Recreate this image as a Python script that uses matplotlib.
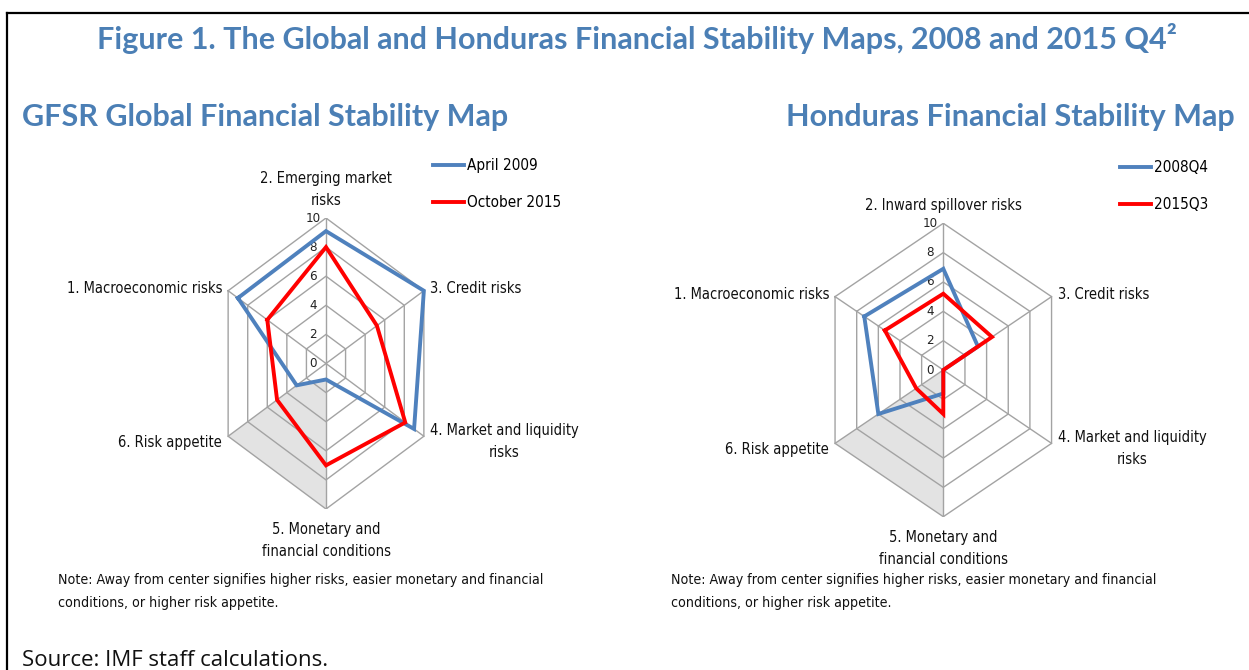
import numpy as np
import matplotlib.pyplot as plt
from matplotlib.lines import Line2D

# axes labels, in clockwise order starting from upper left
labels_global = ["1. Macroeconomic risks", "2. Emerging market\nrisks", "3. Credit risks",
                 "4. Market and liquidity\nrisks", "5. Monetary and\nfinancial conditions",
                 "6. Risk appetite"]
labels_honduras = ["1. Macroeconomic risks", "2. Inward spillover risks", "3. Credit risks",
                   "4. Market and liquidity\nrisks", "5. Monetary and\nfinancial conditions",
                   "6. Risk appetite"]

april_2009 = [9.0, 9.1, 10.0, 9.0, 1.1, 3.0]
october_2015 = [6.0, 8.0, 5.2, 8.1, 7.0, 5.0]
hn_2008q4 = [7.3, 6.9, 3.2, 0.0, 1.6, 6.0]
hn_2015q3 = [5.4, 5.2, 4.5, 0.0, 3.0, 2.5]

# grey area between axes 5 and 6 (inner edge values)
shade_global = [1.1, 3.0]
shade_honduras = [0.0, 0.0]

ring_ticks = [0, 2, 4, 6, 8, 10]

BLUE = "#4f81bd"
RED = "#ff0000"
GRID = "#a3a3a3"
TITLE = "#4b7fb5"
SMALL = dict(family="DejaVu Sans", stretch="condensed")

angles = np.deg2rad([-60, 0, 60, 120, 180, 240])


def to_xy(vals, idx=None):
    r = np.asarray(vals, dtype=float)
    a = angles if idx is None else angles[idx]
    return r * np.sin(a), r * np.cos(a)


def radar(ax, labels, series, shade_inner):
    ax.set_xlim(-10, 10)
    ax.set_ylim(-10, 10)
    ax.axis("off")

    # shaded sector
    sx_in, sy_in = to_xy(shade_inner, [4, 5])
    sx_out, sy_out = to_xy([10, 10], [4, 5])
    ax.fill([sx_in[0], sx_out[0], sx_out[1], sx_in[1]],
            [sy_in[0], sy_out[0], sy_out[1], sy_in[1]],
            color="#e3e3e3", lw=0, zorder=1)

    # rings and spokes
    for t in ring_ticks[1:]:
        gx, gy = to_xy([t] * 6)
        ax.plot(np.append(gx, gx[0]), np.append(gy, gy[0]), color=GRID, lw=1, zorder=2)
    for a in angles:
        ax.plot([0, 10 * np.sin(a)], [0, 10 * np.cos(a)], color=GRID, lw=1, zorder=2)

    for t in ring_ticks:
        ax.annotate(str(t), (0, t), xytext=(-13, 0), textcoords="offset pixels",
                    ha="center", va="center", fontsize=9.5, color="#222222", **SMALL)

    for vals, color in series:
        x, y = to_xy(vals)
        ax.plot(np.append(x, x[0]), np.append(y, y[0]), color=color, lw=2.8,
                solid_joinstyle="miter", zorder=3)

    # category labels
    placing = [((-6, 2), "right", "center"), ((0, 10), "center", "bottom"),
               ((6, 2), "left", "center"), ((6, -5), "left", "center"),
               ((0, -13), "center", "top"), ((-6, -6), "right", "center")]
    vx, vy = to_xy([10] * 6)
    for i, lab in enumerate(labels):
        off, ha, va = placing[i]
        ax.annotate(lab, (vx[i], vy[i]), xytext=off, textcoords="offset pixels",
                    ha=ha, va=va, multialignment="center", fontsize=10.5,
                    linespacing=1.6, color="#111111", **SMALL)


W, H = 1249, 670
fig = plt.figure(figsize=(W / 100, H / 100), dpi=100)


def px_axes(cx, cy, hw, hh):
    return fig.add_axes([(cx - hw) / W, 1 - (cy + hh) / H, 2 * hw / W, 2 * hh / H])


ax1 = px_axes(326, 363.5, 113, 145.5)
radar(ax1, labels_global, [(april_2009, BLUE), (october_2015, RED)], shade_global)

ax2 = px_axes(943.3, 370, 125, 146.7)
radar(ax2, labels_honduras, [(hn_2008q4, BLUE), (hn_2015q3, RED)], shade_honduras)

# legends
for x0, y0, names in [(433, 158, ["April 2009", "October 2015"]),
                      (1120, 160, ["2008Q4", "2015Q3"])]:
    handles = [Line2D([], [], color=BLUE, lw=2.8), Line2D([], [], color=RED, lw=2.8)]
    fig.legend(handles, names, loc="upper left", bbox_to_anchor=(x0 / W, 1 - y0 / H),
               frameon=False, borderpad=0, borderaxespad=0, handlelength=2.0,
               handletextpad=0.2, labelspacing=1.45,
               prop={"family": "DejaVu Sans", "stretch": "condensed", "size": 11})

# titles
HEAD = dict(fontweight="bold", family=["Lato", "DejaVu Sans"], color=TITLE)
fig.text(637 / W, 1 - 38 / H,
         "Figure 1. The Global and Honduras Financial Stability Maps, 2008 and 2015 Q4²",
         ha="center", va="center", fontsize=22, **HEAD)
fig.text(22 / W, 1 - 117 / H, "GFSR Global Financial Stability Map", ha="left", va="center",
         fontsize=22, **HEAD)
fig.text(1235 / W, 1 - 117 / H, "Honduras Financial Stability Map", ha="right", va="center",
         fontsize=22, **HEAD)

note = ("Note: Away from center signifies higher risks, easier monetary and financial\n"
        "conditions, or higher risk appetite.")
for x0 in (58, 671):
    fig.text(x0 / W, 1 - 573 / H, note, ha="left", va="top", fontsize=10.2,
             linespacing=1.8, color="#111111", **SMALL)

fig.text(22 / W, 1 - 660 / H, "Source: IMF staff calculations.", ha="left", va="center",
         fontsize=16, family="Open Sans", color="#111111")

# frame (top and left edges)
fig.add_artist(Line2D([7 / W, 1], [1 - 13 / H, 1 - 13 / H], color="black", lw=1.6))
fig.add_artist(Line2D([7 / W, 7 / W], [0, 1 - 13 / H], color="black", lw=1.6))

fig.savefig("out.png", dpi=100)
